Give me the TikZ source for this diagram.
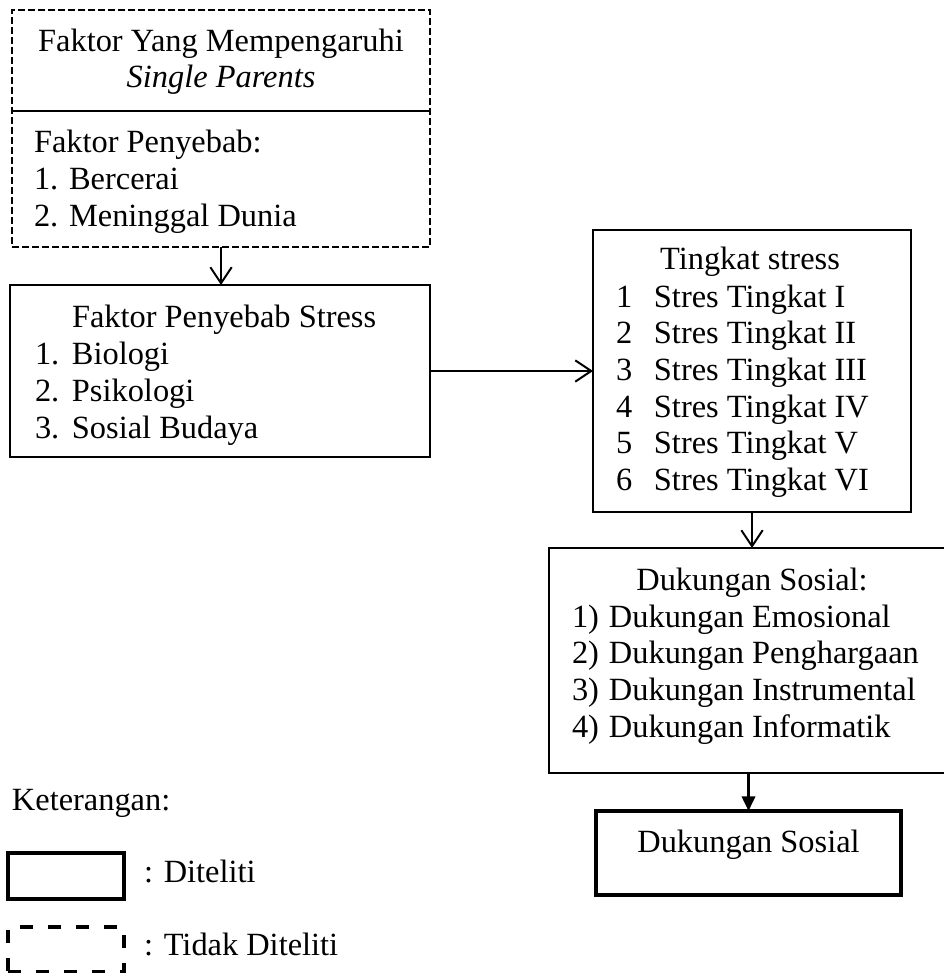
\documentclass[tikz,border=0pt]{standalone}
\usepackage{fontspec}
\setmainfont{Liberation Serif}
\usetikzlibrary{arrows.meta}
\tikzset{every picture/.style={line width=1.5pt}}
\tikzset{
box/.style={draw, line width=1.5pt, inner sep=0pt, outer sep=0pt},
dashbox/.style={box, dash pattern=on 5pt off 2.5pt},
thickbox/.style={draw, line width=3pt, inner sep=0pt, outer sep=0pt},
thickdashbox/.style={thickbox, dash pattern=on 9.75pt off 11.25pt},
txt/.style={anchor=base west, inner sep=0pt, font=\fontsize{24.3}{28}\selectfont},
ctxt/.style={txt, anchor=base},
openarrow/.style={-{Straight Barb[length=12pt,width=16pt]}, line width=1.5pt},
fillarrow/.style={-{Triangle[length=11pt,width=10pt]}, line width=2pt}
}

\begin{document}
\begin{tikzpicture}[x=0.75pt,y=0.75pt,yscale=-1,xscale=1]
\useasboundingbox (0,0) rectangle (944,973);
\clip (0,0) rectangle (944,973);

%Shape: Rectangle
\node[dashbox, minimum width=313.5pt, minimum height=177.75pt] (faktor) at (221,128.5) {};
%Straight Lines
\coordinate (div) at (221,111);
\draw (faktor.west |- div) -- (faktor.east |- div);
%Shape: Rectangle
\node[box, minimum width=315pt, minimum height=129pt] (stress) at (220,371) {};
%Shape: Rectangle
\node[box, minimum width=238.5pt, minimum height=211.5pt] (tingkat) at (752,371) {};
%Shape: Rectangle
\node[box, minimum width=308.25pt, minimum height=168.75pt] (dukungan) at (754.5,660.5) {};
%Shape: Rectangle
\node[thickbox, minimum width=228.75pt, minimum height=63pt] (hasil) at (748.5,853) {};
%Shape: Rectangle
\node[thickbox, minimum width=87pt, minimum height=34.5pt] (diteliti) at (66,876) {};
%Shape: Rectangle
\node[thickdashbox, minimum width=87pt, minimum height=33.75pt] (tidak) at (66,949.5) {};

%Straight Lines
\draw[openarrow] (faktor.south) -- (faktor.south |- stress.north);
%Straight Lines
\draw[openarrow] (stress.east) -- (tingkat.west);
%Straight Lines
\draw[openarrow] (tingkat.south) -- (tingkat.south |- dukungan.north);
%Straight Lines
\draw[fillarrow] (dukungan.south -| hasil.north) -- (hasil.north);

% Text Node
\node[ctxt] (judul) at (221,52) {Faktor Yang Mempengaruhi};
% Text Node
\node[ctxt] (single) at (221,88) {\textit{Single Parents}};
% Text Node
\node[txt] (penyebab) at (33,153) {Faktor Penyebab:};
% Text Node
\node[txt] (cerai) at (33,190) {1. Bercerai};
% Text Node
\node[txt] (meninggal) at (33,227) {2. Meninggal Dunia};

% Text Node
\node[txt] (stresjudul) at (71,327) {Faktor Penyebab Stress};
% Text Node
\node[txt] (biologi) at (34,364) {\makebox[27.75pt][l]{1.}Biologi};
% Text Node
\node[txt] (psikologi) at (34,401) {\makebox[27.75pt][l]{2.}Psikologi};
% Text Node
\node[txt] (sosbud) at (34,438) {\makebox[27.75pt][l]{3.}Sosial Budaya};

% Text Node
\node[ctxt] (tingkatjudul) at (750,270) {Tingkat stress};
% Text Node
\node[txt] (ting1) at (615,307) {\makebox[28.5pt][l]{1}Stres Tingkat I};
% Text Node
\node[txt] (ting2) at (615,343) {\makebox[28.5pt][l]{2}Stres Tingkat II};
% Text Node
\node[txt] (ting3) at (615,380) {\makebox[28.5pt][l]{3}Stres Tingkat III};
% Text Node
\node[txt] (ting4) at (615,417) {\makebox[28.5pt][l]{4}Stres Tingkat IV};
% Text Node
\node[txt] (ting5) at (615,453) {\makebox[28.5pt][l]{5}Stres Tingkat V};
% Text Node
\node[txt] (ting6) at (615,490) {\makebox[28.5pt][l]{6}Stres Tingkat VI};

% Text Node
\node[ctxt] (dukjudul) at (752,590) {Dukungan Sosial:};
% Text Node
\node[txt] (duk1) at (571,627) {\makebox[27.75pt][l]{1)}Dukungan Emosional};
% Text Node
\node[txt] (duk2) at (571,663) {\makebox[27.75pt][l]{2)}Dukungan Penghargaan};
% Text Node
\node[txt] (duk3) at (571,700) {\makebox[27.75pt][l]{3)}Dukungan Instrumental};
% Text Node
\node[txt] (duk4) at (571,737) {\makebox[27.75pt][l]{4)}Dukungan Informatik};

% Text Node
\node[ctxt] (hasiltxt) at (748.5,852) {Dukungan Sosial};

% Text Node
\node[txt] (ket) at (11,810) {Keterangan:};
% Text Node
\node[txt] (ditelititxt) at (143,882) {: Diteliti};
% Text Node
\node[txt] (tidaktxt) at (143,955) {: Tidak Diteliti};

\end{tikzpicture}
\end{document}
